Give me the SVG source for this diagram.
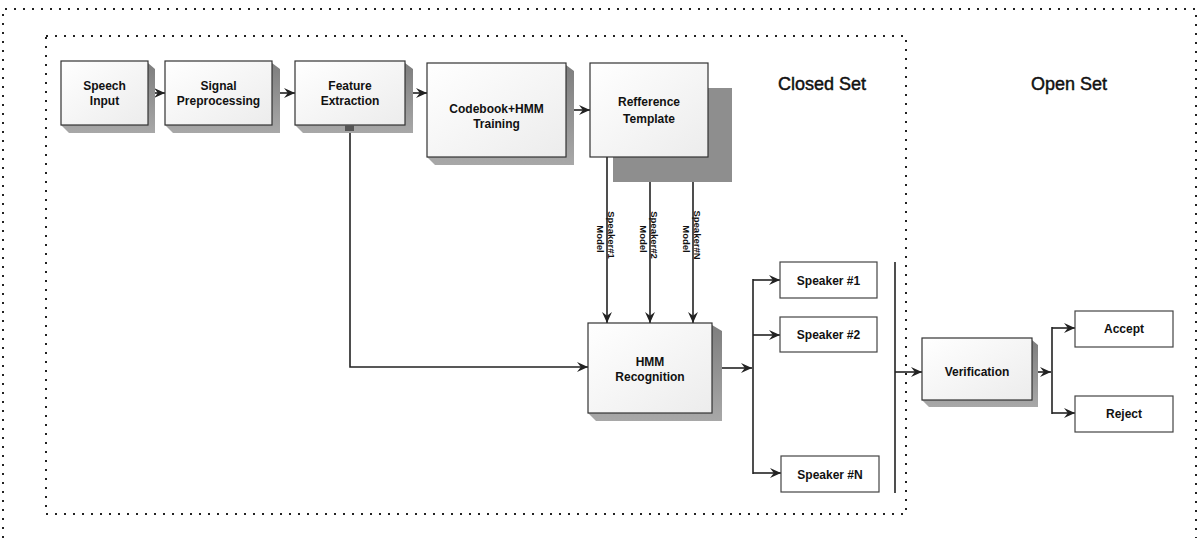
<svg xmlns="http://www.w3.org/2000/svg" width="1199" height="538" viewBox="0 0 1199 538">
<defs>
<marker id="arr" viewBox="0 0 10 10" refX="10" refY="5" markerWidth="11" markerHeight="11" markerUnits="userSpaceOnUse" orient="auto">
<path d="M0,0.5 L10,5 L0,9.5 L3.5,5 z" fill="#222"/>
</marker>
<linearGradient id="boxfill" x1="0" y1="0" x2="1" y2="1">
<stop offset="0" stop-color="#ffffff"/>
<stop offset="1" stop-color="#ececec"/>
</linearGradient>
<linearGradient id="shade" x1="0" y1="0" x2="0" y2="1">
<stop offset="0" stop-color="#7e7e7e"/>
<stop offset="1" stop-color="#a8a8a8"/>
</linearGradient>
</defs>
<style>
.dot{fill:none;stroke:#222;stroke-width:2;stroke-dasharray:2 7;}
.box{fill:url(#boxfill);stroke:#333;stroke-width:1.2;}
.plain{fill:#fff;stroke:#444;stroke-width:1.2;}
.sh{fill:url(#shade);stroke:none;}
.lbl{font-family:"Liberation Sans",Arial,sans-serif;font-weight:bold;font-size:12px;fill:#111;text-anchor:middle;}
.sm{font-family:"Liberation Sans",Arial,sans-serif;font-weight:bold;font-size:9.5px;fill:#111;text-anchor:middle;}
.title{font-family:"Liberation Sans",Arial,sans-serif;font-size:18px;fill:#111;stroke:#111;stroke-width:0.45;text-anchor:middle;}
.ln{fill:none;stroke:#222;stroke-width:1.6;}
</style>
<rect width="1199" height="538" fill="#fff"/>

<g id="borders">
<path class="dot" d="M3,538 L3,9 L1196,9 L1196,538"/>
<rect class="dot" x="46" y="36" width="860" height="478"/>
</g>

<g id="titles">
<text class="title" x="822" y="90">Closed Set</text>
<text class="title" x="1069" y="90">Open Set</text>
</g>

<g id="connectors">
<line class="ln" x1="148" y1="93" x2="165" y2="93" marker-end="url(#arr)"/>
<line class="ln" x1="272" y1="93" x2="295" y2="93" marker-end="url(#arr)"/>
<line class="ln" x1="405" y1="93" x2="427" y2="93" marker-end="url(#arr)"/>
<line class="ln" x1="566" y1="110" x2="590" y2="110" marker-end="url(#arr)"/>
<polyline class="ln" points="350,130 350,367 588,367" marker-end="url(#arr)"/>
<line class="ln" x1="607" y1="157" x2="607" y2="323" marker-end="url(#arr)"/>
<line class="ln" x1="650" y1="157" x2="650" y2="323" marker-end="url(#arr)"/>
<line class="ln" x1="693" y1="157" x2="693" y2="323" marker-end="url(#arr)"/>
<line class="ln" x1="722" y1="368" x2="752" y2="368" marker-end="url(#arr)"/>
<line class="ln" x1="753" y1="279" x2="753" y2="474"/>
<line class="ln" x1="753" y1="280" x2="780" y2="280" marker-end="url(#arr)"/>
<line class="ln" x1="753" y1="335" x2="780" y2="335" marker-end="url(#arr)"/>
<line class="ln" x1="753" y1="473" x2="781" y2="473" marker-end="url(#arr)"/>
<line class="ln" x1="895" y1="262" x2="895" y2="493"/>
<line class="ln" x1="895" y1="372" x2="922" y2="372" marker-end="url(#arr)"/>
<line class="ln" x1="1037" y1="372" x2="1051" y2="372" marker-end="url(#arr)"/>
<line class="ln" x1="1052" y1="327" x2="1052" y2="414"/>
<line class="ln" x1="1052" y1="328" x2="1075" y2="328" marker-end="url(#arr)"/>
<line class="ln" x1="1052" y1="413" x2="1075" y2="413" marker-end="url(#arr)"/>
<g id="model-labels">
<g transform="translate(608,235) rotate(90)"><text class="sm" x="0" y="0">Speaker#1</text><text class="sm" x="4" y="11">Model</text></g>
<g transform="translate(651,235) rotate(90)"><text class="sm" x="0" y="0">Speaker#2</text><text class="sm" x="4" y="11">Model</text></g>
<g transform="translate(694,235) rotate(90)"><text class="sm" x="0" y="0">Speaker#N</text><text class="sm" x="4" y="11">Model</text></g>
</g>
</g>

<g id="speech-input">
<polygon class="sh" points="148,63 155,69 155,133 69,133 61,125 148,125"/>
<rect class="box" x="61" y="61" width="87" height="64"/>
<text class="lbl" x="104.5" y="90">Speech</text>
<text class="lbl" x="104.5" y="105">Input</text>
</g>

<g id="signal-preprocessing">
<polygon class="sh" points="272,63 280,69 280,133 173,133 165,125 272,125"/>
<rect class="box" x="165" y="61" width="107" height="64"/>
<text class="lbl" x="218.5" y="90">Signal</text>
<text class="lbl" x="218.5" y="105">Preprocessing</text>
</g>

<g id="feature-extraction">
<polygon class="sh" points="405,63 413,69 413,133 303,133 295,125 405,125"/>
<rect class="box" x="295" y="61" width="110" height="64"/>
<rect x="345" y="125" width="9" height="6" fill="#555"/>
<text class="lbl" x="350" y="90">Feature</text>
<text class="lbl" x="350" y="105">Extraction</text>
</g>

<g id="codebook-training">
<polygon class="sh" points="566,65 574,71 574,165 435,165 427,157 566,157"/>
<rect class="box" x="427" y="63" width="139" height="94"/>
<text class="lbl" x="496.5" y="113">Codebook+HMM</text>
<text class="lbl" x="496.5" y="128">Training</text>
</g>

<g id="reference-template">
<rect x="613" y="88" width="119" height="94" fill="#8e8e8e"/>
<rect class="box" x="590" y="63" width="118" height="94"/>
<text class="lbl" x="649" y="106">Refference</text>
<text class="lbl" x="649" y="123">Template</text>
</g>

<g id="hmm-recognition">
<polygon class="sh" points="712,325 722,331 722,421 596,421 588,413 712,413"/>
<rect class="box" x="588" y="323" width="124" height="90"/>
<text class="lbl" x="650" y="366">HMM</text>
<text class="lbl" x="650" y="381">Recognition</text>
</g>

<g id="speaker-1">
<rect class="plain" x="780" y="262" width="97" height="36"/>
<text class="lbl" x="828.5" y="285">Speaker #1</text>
</g>
<g id="speaker-2">
<rect class="plain" x="780" y="317" width="97" height="35"/>
<text class="lbl" x="828.5" y="339">Speaker #2</text>
</g>
<g id="speaker-n">
<rect class="plain" x="781" y="456" width="98" height="36"/>
<text class="lbl" x="830" y="479">Speaker #N</text>
</g>

<g id="verification">
<polygon class="sh" points="1032,340 1038,345 1038,407 929,407 922,400 1032,400"/>
<rect class="box" x="922" y="338" width="110" height="62"/>
<text class="lbl" x="977" y="376">Verification</text>
</g>

<g id="accept">
<rect class="plain" x="1075" y="311" width="98" height="36"/>
<text class="lbl" x="1124" y="333">Accept</text>
</g>
<g id="reject">
<rect class="plain" x="1075" y="396" width="98" height="36"/>
<text class="lbl" x="1124" y="418">Reject</text>
</g>
</svg>
